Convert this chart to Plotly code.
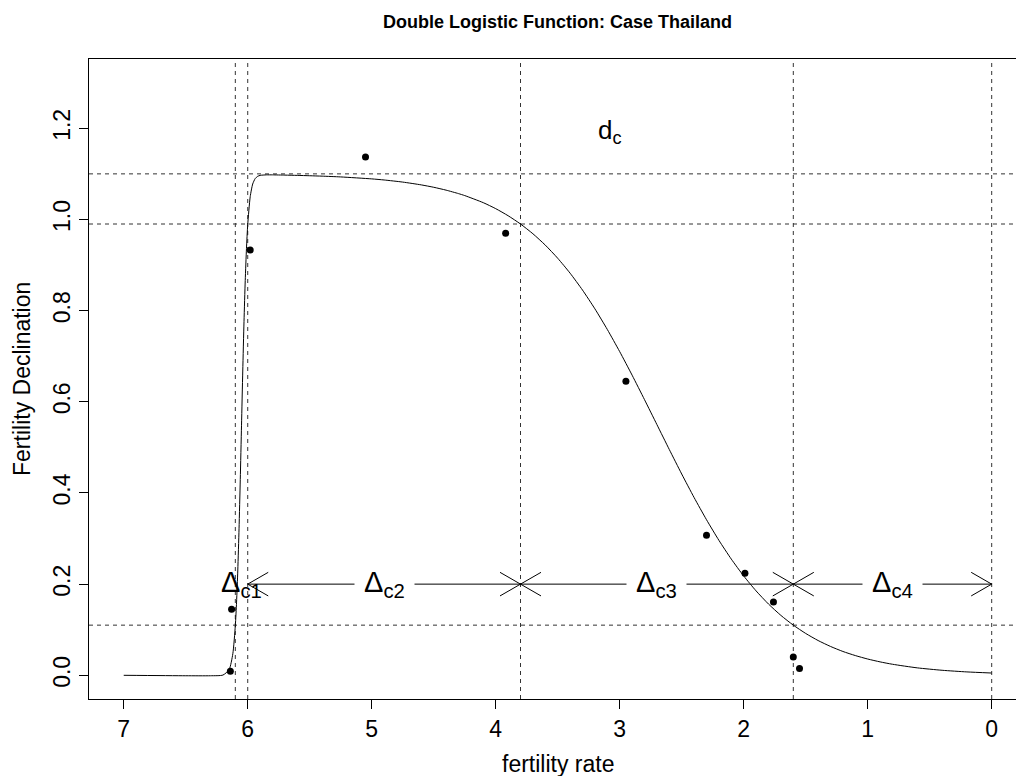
import plotly.graph_objects as go

# ---------------- data ----------------
curve_x = [7.0, 6.5, 6.3, 6.2, 6.15, 6.12, 6.10, 6.09, 6.08, 6.07, 6.06, 6.05,
           6.04, 6.03, 6.02, 6.01, 6.00, 5.98, 5.96, 5.94, 5.92, 5.90, 5.85,
           5.8, 5.7, 5.6, 5.5, 5.4, 5.25, 5.0, 4.9, 4.75, 4.6, 4.5, 4.4, 4.3,
           4.25, 4.1, 4.0, 3.9, 3.8, 3.7, 3.6, 3.5, 3.4, 3.3, 3.2, 3.1, 3.0,
           2.9, 2.8, 2.7, 2.6, 2.5, 2.4, 2.3, 2.2, 2.1, 2.0, 1.9, 1.8, 1.7,
           1.6, 1.5, 1.4, 1.3, 1.2, 1.1, 1.0, 0.9, 0.8, 0.6, 0.4, 0.2, 0.0]
curve_y = [0.000, -0.001, -0.001, 0.0005, 0.0123, 0.0473, 0.1088, 0.1606,
           0.2309, 0.3214, 0.4297, 0.5486, 0.6675, 0.7758, 0.8663, 0.9367,
           0.9885, 1.0499, 1.0777, 1.0896, 1.0946, 1.0967, 1.0978, 1.0978,
           1.0973, 1.0967, 1.0959, 1.0950, 1.0933, 1.0890, 1.0866, 1.0820,
           1.0758, 1.0706, 1.0643, 1.0567, 1.0524, 1.0368, 1.0237, 1.0082,
           0.9900, 0.9686, 0.9437, 0.9149, 0.8821, 0.8451, 0.8039, 0.7587,
           0.7100, 0.6584, 0.6047, 0.5500, 0.4953, 0.4416, 0.3900, 0.3413,
           0.2961, 0.2549, 0.2179, 0.1851, 0.1563, 0.1314, 0.1100, 0.0918,
           0.0763, 0.0633, 0.0523, 0.0433, 0.0357, 0.0294, 0.0242, 0.0163,
           0.0110, 0.0074, 0.0050]

obs_x = [6.14, 6.13, 5.98, 5.05, 3.92, 2.95, 2.30, 1.99, 1.76, 1.60, 1.55]
obs_y = [0.009, 0.145, 0.933, 1.137, 0.970, 0.645, 0.307, 0.224, 0.161, 0.040, 0.015]

breakpoints = [6.1, 6.0, 3.8, 1.6, 0.0]          # vertical dashed lines
levels = [1.1, 0.99, 0.11]                         # horizontal dashed lines
delta_labels = ["Δ<sub>c1</sub>", "Δ<sub>c2</sub>", "Δ<sub>c3</sub>", "Δ<sub>c4</sub>"]
arrow_level = 0.2
dc_label = "d<sub>c</sub>"
dc_pos = (3.08, 1.194)

x_ticks = [7, 6, 5, 4, 3, 2, 1, 0]
y_ticks = [0.0, 0.2, 0.4, 0.6, 0.8, 1.0, 1.2]
y_ticktext = ["0.0", "0.2", "0.4", "0.6", "0.8", "1.0", "1.2"]

title = "Double Logistic Function: Case Thailand"
x_title = "fertility rate"
y_title = "Fertility Declination"

# ---------------- figure ----------------
FONT = "Liberation Sans, Arial, Helvetica, sans-serif"
W, H = 1016, 776
ML, MT, MB, MR = 89, 59, 77, 0
x_range = [7.28, -0.196]
y_range = [-0.052, 1.352]
plot_w = W - ML - MR
plot_h = H - MT - MB
px_x = plot_w / abs(x_range[1] - x_range[0])
px_y = plot_h / abs(y_range[1] - y_range[0])

# arrowhead size (R-like open heads: ~24px long, 30 degrees)
head_dx = 20.5 / px_x
head_dy = 11.8 / px_y

fig = go.Figure()

# curve
fig.add_trace(go.Scatter(x=curve_x, y=curve_y, mode="lines",
                         line=dict(color="black", width=1, shape="spline", smoothing=0.6),
                         hoverinfo="skip", showlegend=False))

# observed points
fig.add_trace(go.Scatter(x=obs_x, y=obs_y, mode="markers",
                         marker=dict(color="black", size=7),
                         showlegend=False))

# double-headed arrows between breakpoints (from 6.0 onward)
ax, ay = [], []
for a, b in zip(breakpoints[1:-1], breakpoints[2:]):
    ax += [a, b, None]
    ay += [arrow_level, arrow_level, None]
    # head at a (pointing to larger value = left on reversed axis)
    ax += [a - head_dx, a, a - head_dx, None]
    ay += [arrow_level + head_dy, arrow_level, arrow_level - head_dy, None]
    # head at b
    ax += [b + head_dx, b, b + head_dx, None]
    ay += [arrow_level + head_dy, arrow_level, arrow_level - head_dy, None]
fig.add_trace(go.Scatter(x=ax, y=ay, mode="lines",
                         line=dict(color="black", width=1),
                         hoverinfo="skip", showlegend=False))

shapes = []
for v in breakpoints:
    shapes.append(dict(type="line", xref="x", yref="paper", x0=v, x1=v, y0=0, y1=1,
                       line=dict(color="#333333", width=1, dash="4px,4px"), layer="below"))
for v in levels:
    shapes.append(dict(type="line", xref="paper", yref="y", x0=0, x1=1, y0=v, y1=v,
                       line=dict(color="#333333", width=1, dash="4px,4px"), layer="below"))

annotations = []
mids = [(a + b) / 2 for a, b in zip(breakpoints[:-1], breakpoints[1:])]
for i, (m, lab) in enumerate(zip(mids, delta_labels)):
    annotations.append(dict(x=m, y=arrow_level, xref="x", yref="y", text=lab,
                            showarrow=False, font=dict(family=FONT, size=29, color="black"),
                            bgcolor="white" if i > 0 else "rgba(0,0,0,0)",
                            borderpad=9 if i > 0 else 0,
                            xanchor="center", yanchor="middle"))
annotations.append(dict(x=dc_pos[0], y=dc_pos[1], xref="x", yref="y", text=dc_label,
                        showarrow=False, font=dict(family=FONT, size=26, color="black"),
                        xanchor="center", yanchor="middle"))
annotations.append(dict(x=3.5, y=1.058, xref="x", yref="paper", text="<b>" + title + "</b>",
                        showarrow=False, font=dict(family=FONT, size=18, color="black"),
                        xanchor="center", yanchor="middle"))
annotations.append(dict(x=3.5, y=-0.102, xref="x", yref="paper", text=x_title,
                        showarrow=False, font=dict(family=FONT, size=23, color="black"),
                        xanchor="center", yanchor="middle"))
annotations.append(dict(x=-0.0723, y=0.5, xref="paper", yref="paper", text=y_title,
                        textangle=-90, showarrow=False,
                        font=dict(family=FONT, size=23, color="black"),
                        xanchor="center", yanchor="middle"))

fig.update_layout(
    width=W, height=H,
    margin=dict(l=ML, r=MR, t=MT, b=MB, pad=0),
    paper_bgcolor="white", plot_bgcolor="white",
    showlegend=False,
    shapes=shapes, annotations=annotations,
    font=dict(family=FONT, color="black"),
    xaxis=dict(range=x_range, tickmode="array", tickvals=x_ticks,
               ticktext=[str(t) for t in x_ticks],
               ticks="outside", ticklen=9, tickwidth=1, tickcolor="black",
               showline=True, linecolor="black", linewidth=1, mirror=True,
               showgrid=False, zeroline=False,
               tickfont=dict(family=FONT, size=23, color="black")),
    yaxis=dict(range=y_range, tickmode="array", tickvals=y_ticks, ticktext=y_ticktext,
               ticks="outside", ticklen=9, tickwidth=1, tickcolor="black",
               showline=True, linecolor="black", linewidth=1, mirror=False,
               showgrid=False, zeroline=False, tickangle=-90,
               tickfont=dict(family=FONT, size=23, color="black")),
)

fig.write_html("out.html")
